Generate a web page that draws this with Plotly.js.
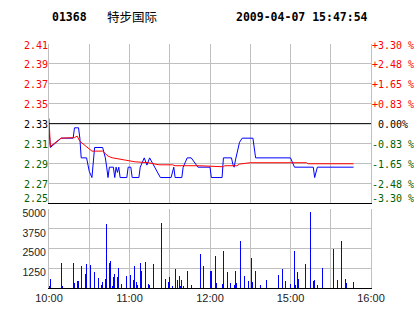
<!DOCTYPE html>
<html>
<head>
<meta charset="utf-8">
<script src="https://cdn.plot.ly/plotly-3.0.1.min.js"></script>
<style>
html,body{margin:0;padding:0;background:#fff;}
#chart{width:414px;height:314px;}
</style>
</head>
<body>
<div id="chart"></div>
<script>
// ---- data ----
const stockCode = '01368';
const stockName = '特步国际';
const stamp = '2009-04-07 15:47:54';
const prevClose = 2.33;

const pctSteps = [-3.30, -2.48, -1.65, -0.83, 0, 0.83, 1.65, 2.48, 3.30];
const priceLabels = ['2.25', '2.27', '2.29', '2.31', '2.33', '2.35', '2.37', '2.39', '2.41'];
const pctLabels = ['-3.30 %', '-2.48 %', '-1.65 %', '-0.83 %', '\u00a00.00%', '+0.83 %', '+1.65 %', '+2.48 %', '+3.30 %'];

// trading minutes since 10:00 (10:00-12:30, 14:30-16:00)
const timeTicks = [0, 30, 60, 90, 120, 150, 180, 210, 240];
const timeLabels = ['10:00', '', '11:00', '', '12:00', '', '15:00', '', '16:00'];

const priceTimes = [0, 1, 9, 18, 19, 22, 23, 24, 28, 30, 32, 33, 34, 40, 42, 43, 44, 45, 48, 49, 50, 51, 52, 53, 58, 59, 61, 62, 67, 68, 71, 73, 75, 83, 91, 93, 94, 99, 100, 103, 106, 111, 120, 121, 129, 130, 136, 137, 138, 139, 141, 142, 144, 152, 154, 180, 183, 197, 198, 200, 227];
const priceValues = [2.325, 2.307, 2.316, 2.316, 2.326, 2.326, 2.316, 2.297, 2.297, 2.284, 2.278, 2.297, 2.307, 2.307, 2.297, 2.288, 2.278, 2.288, 2.288, 2.278, 2.288, 2.283, 2.288, 2.278, 2.278, 2.288, 2.288, 2.278, 2.278, 2.288, 2.297, 2.290, 2.297, 2.278, 2.278, 2.288, 2.278, 2.278, 2.288, 2.297, 2.297, 2.288, 2.288, 2.278, 2.278, 2.297, 2.297, 2.291, 2.288, 2.295, 2.307, 2.312, 2.316, 2.316, 2.297, 2.297, 2.288, 2.288, 2.278, 2.288, 2.288];

const avgTimes = [0, 1, 7, 9, 19, 21, 23, 27, 29, 32, 40, 42, 44, 47, 53, 58, 64, 74, 82, 92, 94, 112, 120, 122, 130, 131, 140, 142, 150, 192, 193, 227];
const avgValues = [2.335, 2.308, 2.314, 2.316, 2.3165, 2.318, 2.313, 2.309, 2.307, 2.3035, 2.3035, 2.301, 2.2987, 2.2971, 2.2955, 2.2945, 2.2932, 2.2923, 2.2903, 2.2903, 2.2894, 2.2894, 2.289, 2.2884, 2.2884, 2.2894, 2.2894, 2.291, 2.2923, 2.2923, 2.2913, 2.2913];

const volTimes = [0, 1, 9, 10, 18, 19, 21, 22, 24, 27, 28, 31, 34, 37, 39, 40, 42, 43, 45, 46, 47, 48, 49, 51, 52, 54, 58, 61, 63, 64, 65, 66, 68, 69, 72, 74, 75, 78, 84, 87, 89, 90, 92, 94, 96, 97, 98, 99, 100, 103, 106, 113, 115, 120, 121, 124, 125, 129, 130, 133, 135, 138, 139, 140, 143, 146, 149, 151, 152, 154, 158, 162, 171, 174, 176, 180, 183, 184, 185, 186, 191, 195, 197, 198, 200, 204, 212, 215, 218, 221, 222, 227];
const volValues = [150, 570, 1600, 145, 1600, 335, 460, 460, 1410, 900, 1540, 1475, 990, 650, 210, 355, 590, 4070, 1600, 1685, 145, 715, 900, 715, 1265, 270, 780, 840, 525, 1410, 355, 210, 1600, 1050, 1665, 270, 210, 1540, 4110, 590, 400, 715, 145, 1220, 525, 780, 145, 525, 145, 1095, 210, 2170, 1410, 1095, 1095, 2045, 335, 270, 2360, 1030, 335, 210, 1095, 335, 2995, 780, 460, 1920, 400, 1095, 210, 525, 840, 1220, 460, 270, 2360, 210, 1030, 590, 1540, 4810, 460, 525, 210, 1265, 2490, 525, 2995, 590, 335, 400];

const volTicks = [1250, 2500, 3750, 5000];
const volLabels = ['1250', '2500', '3750', '5000'];

// ---- derived axis settings ----
const priceTickVals = pctSteps.map(p => prevClose * (1 + p / 100));
const priceRange = [prevClose * (1 - 0.033), prevClose * (1 + 0.033)];
const pricePanelPx = 159;
const pxUnit = (priceRange[1] - priceRange[0]) / pricePanelPx;
// label anchor positions: bottom label sits just above the bottom line, others ~1px below grid
const labelPos = priceTickVals.map((v, i) => i === 0 ? v + 5 * pxUnit : v - 1 * pxUnit);
function colorFor(p) { return p > 0 ? '#ff0000' : (p < 0 ? '#006000' : '#000000'); }
const priceTickText = priceLabels.map((s, i) => '<span style="color:' + colorFor(pctSteps[i]) + '">' + s + '</span>');
const pctTickText = pctLabels.map((s, i) => '<span style="color:' + colorFor(pctSteps[i]) + '">' + s + '</span>');

const grid = '#c0c0c0';
const mono = 'DejaVu Sans Mono, monospace';
const sans = 'Liberation Sans, Arial, sans-serif';

const traces = [
  {x: priceTimes, y: priceValues, type: 'scatter', mode: 'lines', xaxis: 'x', yaxis: 'y',
   line: {color: '#0000ff', width: 1}, hoverinfo: 'skip'},
  {x: avgTimes, y: avgValues, type: 'scatter', mode: 'lines', xaxis: 'x', yaxis: 'y2',
   line: {color: '#ff0000', width: 1}, hoverinfo: 'skip'},
  {x: volTimes, y: volValues, type: 'bar', xaxis: 'x2', yaxis: 'y3', width: 0.75,
   marker: {color: '#0000ff', line: {width: 0}}, hoverinfo: 'skip'},
  {x: [0], y: [prevClose], type: 'scatter', mode: 'markers', xaxis: 'x', yaxis: 'y4',
   marker: {opacity: 0, size: 1}, hoverinfo: 'skip'}
];

const layout = {
  width: 414, height: 314,
  margin: {l: 49, r: 43, t: 44, b: 26},
  paper_bgcolor: '#ffffff', plot_bgcolor: '#ffffff',
  showlegend: false,
  bargap: 0,
  xaxis: {domain: [0, 1], anchor: 'y', range: [0, 240], tickmode: 'array', tickvals: timeTicks,
          ticktext: timeLabels, showticklabels: false, showgrid: true, gridcolor: grid, gridwidth: 1,
          showline: true, linecolor: '#000000', linewidth: 1, zeroline: false, ticks: ''},
  xaxis2: {domain: [0, 1], anchor: 'y3', range: [0, 240], tickmode: 'array', tickvals: timeTicks,
           ticktext: timeLabels, showticklabels: true, tickfont: {family: sans, size: 11, color: '#222222'},
           showgrid: true, gridcolor: grid, gridwidth: 1, showline: true, linecolor: '#000000', linewidth: 1,
           zeroline: false, ticks: ''},
  yaxis: {domain: [0.347, 1], anchor: 'x', range: priceRange, tickmode: 'array', tickvals: priceTickVals,
          showticklabels: false,
          showgrid: true, gridcolor: grid, gridwidth: 1, showline: true, linecolor: grid, mirror: true,
          zeroline: false, ticks: ''},
  yaxis2: {overlaying: 'y', anchor: 'x', side: 'right', range: priceRange, tickmode: 'array',
           tickvals: labelPos, ticktext: pctTickText, tickfont: {family: mono, size: 10, color: '#000000'},
           showgrid: false, showline: false, zeroline: false, ticks: ''},
  yaxis4: {overlaying: 'y', anchor: 'x', side: 'left', range: priceRange, tickmode: 'array',
           tickvals: labelPos, ticktext: priceTickText, tickfont: {family: mono, size: 10, color: '#000000'},
           showgrid: false, showline: false, zeroline: false, ticks: ''},
  yaxis3: {domain: [0, 0.3225], anchor: 'x2', range: [0, 5000], tickmode: 'array', tickvals: volTicks,
           ticktext: volLabels, tickfont: {family: sans, size: 10.5, color: '#222222'}, ticklabelshift: 4,
           showgrid: true, gridcolor: grid, gridwidth: 1, showline: true, linecolor: grid, mirror: true,
           zeroline: false, ticks: ''},
  shapes: [
    {type: 'line', xref: 'paper', x0: 0, x1: 1, yref: 'y', y0: prevClose, y1: prevClose,
     line: {color: '#000000', width: 1}}
  ],
  annotations: [
    {xref: 'paper', yref: 'paper', x: 0.003, y: 1.11, xanchor: 'left', yanchor: 'middle', showarrow: false,
     text: '<b>' + stockCode + '</b>', font: {family: mono, size: 11.5, color: '#000000'}},
    {xref: 'paper', yref: 'paper', x: 0.174, y: 1.113, xanchor: 'left', yanchor: 'middle', showarrow: false,
     text: stockName, font: {family: 'Noto Sans CJK SC', size: 12.5, color: '#000000'}},
    {xref: 'paper', yref: 'paper', x: 0.997, y: 1.11, xanchor: 'right', yanchor: 'middle', showarrow: false,
     text: '<b>' + stamp + '</b>', font: {family: mono, size: 11.5, color: '#000000'}}
  ]
};

Plotly.newPlot('chart', traces, layout, {staticPlot: true, displayModeBar: false});
</script>
</body>
</html>
